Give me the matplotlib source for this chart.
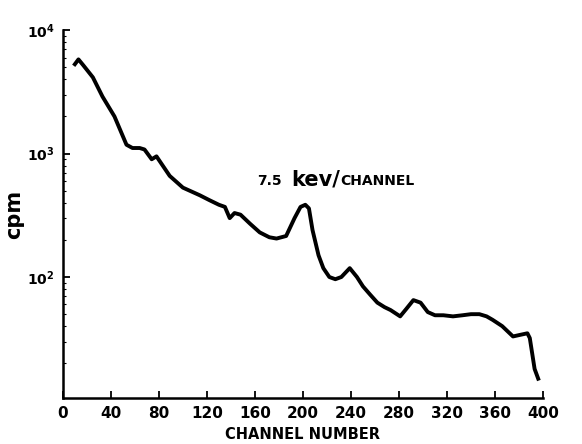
import matplotlib
matplotlib.use("Agg")
import matplotlib.pyplot as plt
from matplotlib.ticker import FixedLocator, NullFormatter

# spectrum (channel, counts per minute)
channel = [10, 13, 17, 25, 33, 43, 53, 58, 64, 68, 74, 78, 81, 89, 100, 114,
           122, 130, 135, 139, 143, 148, 156, 164, 172, 178, 186, 193, 198,
           202, 205, 208, 213, 217, 222, 227, 232, 239, 245, 250, 256, 262,
           268, 273, 281, 286, 292, 298, 304, 310, 317, 325, 333, 340, 347,
           353, 358, 366, 375, 381, 387, 389, 391, 393, 396]
cpm = [5300, 5800, 5200, 4150, 2900, 2000, 1180, 1110, 1110, 1080, 900,
       950, 860, 660, 530, 460, 420, 385, 370, 300, 330, 320, 270, 230, 210,
       205, 215, 300, 370, 385, 360, 240, 150, 118, 100, 96, 100, 118, 100,
       84, 72, 62, 57, 54, 48, 55, 65, 62, 52, 49, 49, 48, 49, 50, 50, 48,
       45, 40, 33, 34, 35, 32, 24, 18, 15]

xticks = [0, 40, 80, 120, 160, 200, 240, 280, 320, 360, 400]
yticks = [1e2, 1e3, 1e4]
ylabels = [r"$\mathbf{10^2}$", r"$\mathbf{10^3}$", r"$\mathbf{10^4}$"]

plt.rcParams["font.family"] = ["DejaVu Sans"]
plt.rcParams["font.weight"] = "bold"

fig = plt.figure(figsize=(5.82, 4.44), dpi=100)
ax = fig.add_axes([0.108, 0.104, 0.825, 0.828])

ax.plot(channel, cpm, color="black", linewidth=2.8, solid_joinstyle="round")

ax.set_yscale("log")
ax.set_xlim(0, 400)
ax.set_ylim(10.5, 1e4)

ax.set_xticks(xticks)
ax.set_xticklabels([str(t) for t in xticks], fontsize=11, fontweight="bold")
ax.yaxis.set_major_locator(FixedLocator(yticks))
ax.set_yticklabels(ylabels, fontsize=10)
ax.yaxis.set_minor_formatter(NullFormatter())

ax.tick_params(axis="both", which="major", direction="in", length=5, width=1.3, pad=6)
ax.tick_params(axis="y", which="minor", direction="in", length=2, width=0.8)

for side in ("top", "right"):
    ax.spines[side].set_visible(False)
for side in ("left", "bottom"):
    ax.spines[side].set_linewidth(1.8)

ax.set_xlabel("CHANNEL NUMBER", fontsize=10.5, fontweight="bold", labelpad=4)
ax.set_ylabel("cpm", fontsize=15, fontweight="bold", labelpad=2)

ax.text(0.404, 0.59, "7.5", transform=ax.transAxes, fontsize=10,
        fontweight="bold", va="center")
ax.text(0.475, 0.595, "kev/", transform=ax.transAxes, fontsize=15,
        fontweight="bold", va="center")
ax.text(0.578, 0.59, "CHANNEL", transform=ax.transAxes, fontsize=10,
        fontweight="bold", va="center")

fig.savefig("out.png", dpi=100, facecolor="white")
